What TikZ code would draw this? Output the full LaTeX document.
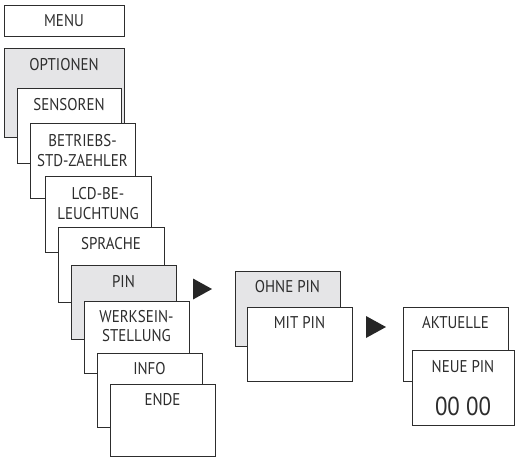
\documentclass[tikz,border=0pt]{standalone}
\usepackage{fontspec}
\setmainfont{PT Sans}[FakeStretch=0.88]
\definecolor{boxgray}{RGB}{229,229,231}
\definecolor{edge}{RGB}{45,45,45}
\tikzset{
  mbox/.style={draw=edge, line width=0.9pt, fill=white, inner sep=0pt, anchor=north west},
  gbox/.style={mbox, fill=boxgray},
  lbl/.style={font=\fontsize{17}{19.5}\selectfont, text=edge, inner sep=0pt, align=center},
  big/.style={lbl, font=\fontsize{26}{28}\selectfont},
  tri/.style={fill=black!85},
}
\begin{document}
\begin{tikzpicture}[x=1pt,y=-1pt]
\useasboundingbox (0,0) rectangle (515,459);
% left column
\node[mbox, minimum width=120pt, minimum height=31pt] (menu) at (4,5) {};
\node[lbl] (tmenu) at (64,21) {MENU};
\node[gbox, minimum width=120pt, minimum height=89pt] (opt) at (4,48) {};
\node[lbl] (topt) at (64,65) {OPTIONEN};
\node[mbox, minimum width=104pt, minimum height=75pt] (sens) at (17,88) {};
\node[lbl] (tsens) at (69,105) {SENSOREN};
\node[mbox, minimum width=105pt, minimum height=75pt] (betr) at (30,123) {};
\node[lbl] (tbetr) at (82.5,150.5) {BETRIEBS-\\STD-ZAEHLER};
\node[mbox, minimum width=106pt, minimum height=76pt] (lcd) at (45,176) {};
\node[lbl] (tlcd) at (98,203.5) {LCD-BE-\\LEUCHTUNG};
\node[mbox, minimum width=106pt, minimum height=75pt] (spr) at (58,227) {};
\node[lbl] (tspr) at (111,244) {SPRACHE};
\node[gbox, minimum width=105pt, minimum height=74pt] (pin) at (71,265) {};
\node[lbl] (tpin) at (123.5,282) {PIN};
\node[mbox, minimum width=105pt, minimum height=72pt] (werk) at (84,301) {};
\node[lbl] (twerk) at (136.5,326) {WERKSEIN-\\STELLUNG};
\node[mbox, minimum width=105pt, minimum height=74pt] (info) at (97,353) {};
\node[lbl] (tinfo) at (149.5,369) {INFO};
\node[mbox, minimum width=105pt, minimum height=72pt] (ende) at (110,384) {};
\node[lbl] (tende) at (162.5,400) {ENDE};
% arrow 1
\fill[tri] (193,278.5) -- (212,289) -- (193,299.5) -- cycle;
% middle column
\node[gbox, minimum width=105pt, minimum height=75pt] (ohne) at (235,271) {};
\node[lbl] (tohne) at (287.5,287) {OHNE PIN};
\node[mbox, minimum width=105pt, minimum height=74pt] (mit) at (247,307) {};
\node[lbl] (tmit) at (299.5,323) {MIT PIN};
% arrow 2
\fill[tri] (366,316) -- (386,327) -- (366,338) -- cycle;
% right column
\node[mbox, minimum width=105pt, minimum height=74pt] (akt) at (403,307) {};
\node[lbl] (takt) at (455.5,323) {AKTUELLE};
\node[mbox, minimum width=102pt, minimum height=75pt] (neue) at (412,350) {};
\node[lbl] (tneue) at (463,367) {NEUE PIN};
\node[big] (tnum) at (463,406) {00 00};
\end{tikzpicture}
\end{document}
